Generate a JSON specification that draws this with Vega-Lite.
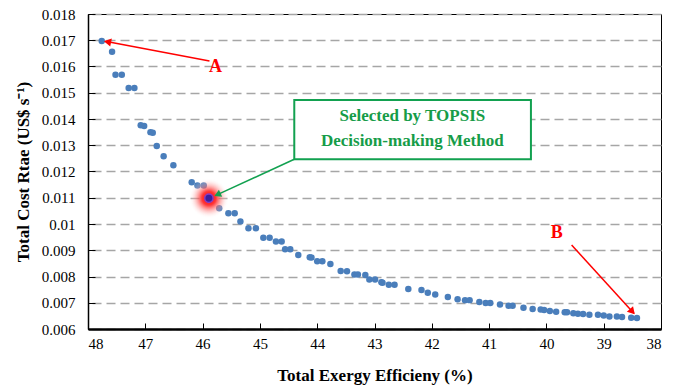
{
  "$schema": "https://vega.github.io/schema/vega-lite/v6.json",
  "width": 573,
  "height": 315,
  "autosize": "none",
  "padding": {"left": 88, "top": 14, "right": 19, "bottom": 59},
  "background": "white",
  "config": {
    "view": {"stroke": "#000000", "strokeWidth": 1},
    "font": "Liberation Serif"
  },
  "datasets": {
    "pts": [
      {"x": 47.76, "y": 0.01697}, {"x": 47.58, "y": 0.01656}, {"x": 47.52, "y": 0.01569}, {"x": 47.41, "y": 0.01569},
      {"x": 47.29, "y": 0.01518}, {"x": 47.19, "y": 0.01518}, {"x": 47.08, "y": 0.01376}, {"x": 47.02, "y": 0.01373},
      {"x": 46.91, "y": 0.0135}, {"x": 46.87, "y": 0.01348}, {"x": 46.8, "y": 0.01297}, {"x": 46.68, "y": 0.01258},
      {"x": 46.51, "y": 0.01224}, {"x": 46.19, "y": 0.01159}, {"x": 46.09, "y": 0.01147}, {"x": 45.98, "y": 0.01147},
      {"x": 45.71, "y": 0.0106}, {"x": 45.55, "y": 0.01041}, {"x": 45.44, "y": 0.01041}, {"x": 45.34, "y": 0.0101},
      {"x": 45.2, "y": 0.00984}, {"x": 45.07, "y": 0.00984}, {"x": 44.94, "y": 0.00948}, {"x": 44.83, "y": 0.00948},
      {"x": 44.72, "y": 0.00933}, {"x": 44.62, "y": 0.00933}, {"x": 44.56, "y": 0.00904}, {"x": 44.47, "y": 0.00904},
      {"x": 44.33, "y": 0.00882}, {"x": 44.13, "y": 0.00873}, {"x": 44.1, "y": 0.00872}, {"x": 44.0, "y": 0.00858},
      {"x": 43.91, "y": 0.00858}, {"x": 43.77, "y": 0.00848}, {"x": 43.59, "y": 0.00821}, {"x": 43.48, "y": 0.0082},
      {"x": 43.35, "y": 0.00808}, {"x": 43.29, "y": 0.00808}, {"x": 43.16, "y": 0.00806}, {"x": 43.09, "y": 0.00789},
      {"x": 42.99, "y": 0.00789}, {"x": 42.88, "y": 0.00778}, {"x": 42.86, "y": 0.00776}, {"x": 42.75, "y": 0.00769},
      {"x": 42.65, "y": 0.00769}, {"x": 42.41, "y": 0.00752}, {"x": 42.18, "y": 0.00749}, {"x": 42.07, "y": 0.00738},
      {"x": 41.94, "y": 0.00731}, {"x": 41.72, "y": 0.00722}, {"x": 41.55, "y": 0.00713}, {"x": 41.42, "y": 0.0071},
      {"x": 41.34, "y": 0.0071}, {"x": 41.17, "y": 0.00703}, {"x": 41.06, "y": 0.00699}, {"x": 40.98, "y": 0.00699},
      {"x": 40.81, "y": 0.00693}, {"x": 40.66, "y": 0.00689}, {"x": 40.59, "y": 0.00689}, {"x": 40.4, "y": 0.00681},
      {"x": 40.24, "y": 0.00676}, {"x": 40.1, "y": 0.00674}, {"x": 40.04, "y": 0.00672}, {"x": 39.94, "y": 0.00669},
      {"x": 39.83, "y": 0.00666}, {"x": 39.68, "y": 0.00664}, {"x": 39.64, "y": 0.00664}, {"x": 39.53, "y": 0.0066},
      {"x": 39.45, "y": 0.00658}, {"x": 39.36, "y": 0.00657}, {"x": 39.25, "y": 0.00654}, {"x": 39.1, "y": 0.00654},
      {"x": 39.0, "y": 0.00651}, {"x": 38.9, "y": 0.00648}, {"x": 38.77, "y": 0.00648}, {"x": 38.68, "y": 0.00646},
      {"x": 38.52, "y": 0.00643}, {"x": 38.42, "y": 0.00642}
    ],
    "sel": [{"x": 45.89, "y": 0.01098}],
    "box": [{"x": 44.4, "y": 0.014724, "x2": 40.27, "y2": 0.012465}],
    "boxtext": [
      {"x": 42.34, "y": 0.014114, "label": "Selected by TOPSIS"},
      {"x": 42.34, "y": 0.013162, "label": "Decision-making Method"}
    ],
    "letters": [
      {"x": 45.775, "y": 0.01598, "label": "A"},
      {"x": 39.82, "y": 0.009657, "label": "B"}
    ],
    "arrowA": [{"x": 45.88, "y": 0.01621, "x2": 47.7, "y2": 0.01696}],
    "headA": [{"x": 47.66, "y": 0.01694}],
    "arrowB": [{"x": 39.56, "y": 0.0092, "x2": 38.47, "y2": 0.00659}],
    "headB": [{"x": 38.5, "y": 0.00666}],
    "arrowG": [{"x": 44.4, "y": 0.012465, "x2": 45.77, "y2": 0.01109}],
    "headG": [{"x": 45.74, "y": 0.01112}]
  },
  "encoding": {
    "x": {
      "field": "x", "type": "quantitative",
      "scale": {"domain": [38, 48], "reverse": true, "nice": false, "zero": false},
      "axis": {
        "title": "Total Exergy Efficieny (%)",
        "values": [38, 39, 40, 41, 42, 43, 44, 45, 46, 47, 48],
        "format": "d",
        "grid": false,
        "labelOverlap": false,
        "labelFont": "Liberation Serif", "titleFont": "Liberation Serif",
        "domainColor": "#000000", "domainWidth": 2.5,
        "tickColor": "#000000", "tickSize": -6, "tickWidth": 1,
        "labelFontSize": 15, "labelColor": "#000000", "labelPadding": 13,
        "titleFontSize": 17, "titleFontWeight": "bold", "titleColor": "#000000", "titlePadding": 16
      }
    },
    "y": {
      "field": "y", "type": "quantitative",
      "scale": {"domain": [0.006, 0.018], "nice": false, "zero": false},
      "axis": {
        "title": "Total Cost Rtae (US$ s⁻¹)",
        "values": [0.006, 0.007, 0.008, 0.009, 0.01, 0.011, 0.012, 0.013, 0.014, 0.015, 0.016, 0.017, 0.018],
        "format": ".3~f",
        "labelOverlap": false,
        "labelFont": "Liberation Serif", "titleFont": "Liberation Serif",
        "grid": true, "gridColor": "#a6a6a6", "gridDash": [9, 5], "gridWidth": 1.4,
        "domainColor": "#000000", "domainWidth": 1.5,
        "tickColor": "#000000", "tickSize": -7, "tickWidth": 1,
        "labelFontSize": 15, "labelColor": "#000000", "labelPadding": 20,
        "titleFontSize": 17, "titleFontWeight": "bold", "titleColor": "#000000", "titlePadding": 9
      }
    }
  },
  "layer": [
    {
      "data": {"name": "pts"},
      "mark": {"type": "point", "shape": "circle", "filled": true, "color": "#4a7ebb", "opacity": 1, "size": 42}
    },
    {
      "data": {"name": "sel"},
      "mark": {"type": "point", "shape": "circle", "filled": true, "opacity": 1, "size": 1600,
        "color": {"gradient": "radial", "stops": [
          {"offset": 0, "color": "rgba(255,0,0,1)"},
          {"offset": 0.35, "color": "rgba(255,20,20,0.85)"},
          {"offset": 1, "color": "rgba(255,255,255,0)"}
        ]}}
    },
    {
      "data": {"name": "sel"},
      "mark": {"type": "point", "shape": "circle", "filled": true, "opacity": 1, "size": 70, "color": "#3b1f9c", "stroke": "#8a3cc0", "strokeWidth": 1.5}
    },
    {
      "data": {"name": "arrowA"},
      "mark": {"type": "rule", "color": "#ff0000", "strokeWidth": 1.5},
      "encoding": {"x2": {"field": "x2"}, "y2": {"field": "y2"}}
    },
    {
      "data": {"name": "headA"},
      "mark": {"type": "point", "shape": "triangle-up", "filled": true, "opacity": 1, "color": "#ff0000", "size": 70, "angle": 281}
    },
    {
      "data": {"name": "arrowB"},
      "mark": {"type": "rule", "color": "#ff0000", "strokeWidth": 1.5},
      "encoding": {"x2": {"field": "x2"}, "y2": {"field": "y2"}}
    },
    {
      "data": {"name": "headB"},
      "mark": {"type": "point", "shape": "triangle-up", "filled": true, "opacity": 1, "color": "#ff0000", "size": 70, "angle": 138}
    },
    {
      "data": {"name": "arrowG"},
      "mark": {"type": "rule", "color": "#12a150", "strokeWidth": 1.5},
      "encoding": {"x2": {"field": "x2"}, "y2": {"field": "y2"}}
    },
    {
      "data": {"name": "headG"},
      "mark": {"type": "point", "shape": "triangle-up", "filled": true, "opacity": 1, "color": "#12a150", "size": 60, "angle": 245}
    },
    {
      "data": {"name": "box"},
      "mark": {"type": "rect", "fill": "#ffffff", "stroke": "#12a150", "strokeWidth": 2},
      "encoding": {"x2": {"field": "x2"}, "y2": {"field": "y2"}}
    },
    {
      "data": {"name": "boxtext"},
      "mark": {"type": "text", "font": "Liberation Serif", "fontSize": 17, "fontWeight": "bold", "color": "#169c48", "align": "center", "baseline": "middle"},
      "encoding": {"text": {"field": "label"}}
    },
    {
      "data": {"name": "letters"},
      "mark": {"type": "text", "font": "Liberation Serif", "fontSize": 18, "fontWeight": "bold", "color": "#ff0000", "align": "center", "baseline": "middle"},
      "encoding": {"text": {"field": "label"}}
    }
  ]
}
